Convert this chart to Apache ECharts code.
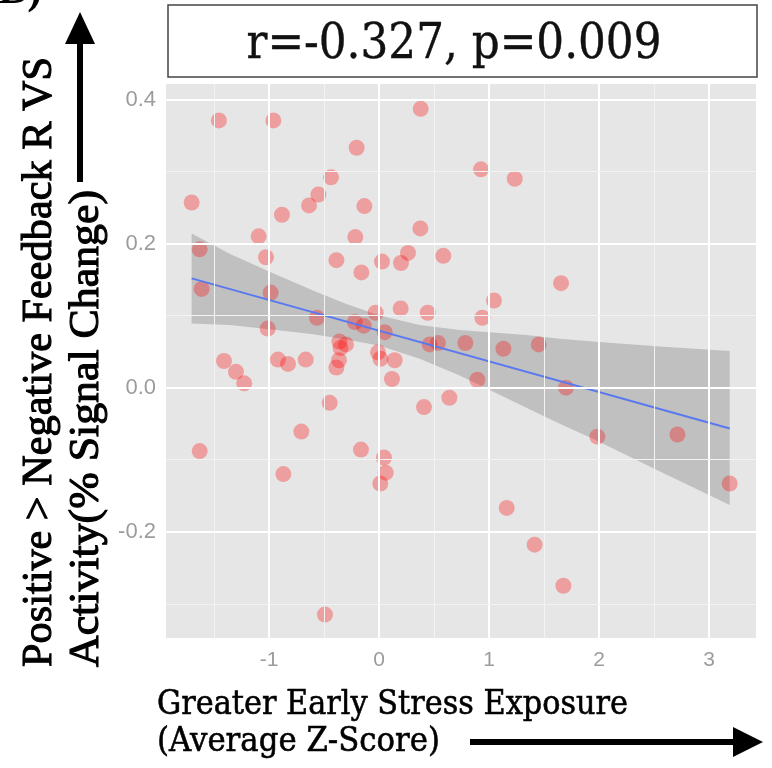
<!DOCTYPE html>
<html>
<head>
<meta charset="utf-8">
<script src="https://cdn.jsdelivr.net/npm/echarts@6/dist/echarts.min.js"></script>
<style>html,body{margin:0;padding:0;background:#fff}#c{width:772px;height:768px}</style>
</head>
<body>
<div id="c"></div>
<script>
// ---- data ----
const pointsX = [-1.455,-0.960,0.379,-0.203,-0.436,-0.551,-0.636,-0.133,-1.703,-0.882,0.376,-1.094,-0.215,-1.630,-1.027,-0.387,0.027,0.264,0.200,0.585,-0.160,-1.612,-0.985,-0.564,-0.030,0.197,0.443,-0.220,-0.139,-1.012,0.052,-0.36,-0.30,-0.35,0.461,0.536,0.785,-1.409,-1.300,-1.225,-0.918,-0.827,-0.666,-0.364,-0.387,-0.009,0.013,0.143,0.118,-0.448,0.409,0.640,-1.630,-0.706,-0.164,0.045,0.061,0.012,-0.869,-0.491,0.927,1.234,1.655,1.045,0.940,1.131,1.452,0.894,1.700,1.985,2.713,3.188,1.161,1.415,1.676];
const pointsY = [0.371,0.371,0.387,0.333,0.292,0.268,0.253,0.252,0.257,0.240,0.221,0.210,0.209,0.192,0.181,0.177,0.175,0.187,0.173,0.183,0.160,0.137,0.132,0.097,0.104,0.110,0.104,0.091,0.086,0.082,0.077,0.064,0.060,0.055,0.060,0.062,0.062,0.037,0.022,0.006,0.039,0.033,0.039,0.038,0.028,0.049,0.040,0.038,0.012,-0.021,-0.027,-0.014,-0.088,-0.061,-0.086,-0.097,-0.118,-0.133,-0.120,-0.315,0.303,0.290,0.145,0.121,0.097,0.054,0.060,0.011,0.000,-0.068,-0.065,-0.133,-0.167,-0.218,-0.275];
const fitX = [-1.703, 3.188];
const fitY = [0.1517, -0.0567];
const bandX = [-1.703,-1.357,-0.994,-0.6,-0.297,0.006,0.37,0.733,1.34,1.643,1.945,2.55,3.188];
const bandUpper = [0.214,0.186,0.161,0.135,0.116,0.100,0.087,0.080,0.073,0.068,0.064,0.057,0.051];
const bandLower = [0.089,0.087,0.081,0.074,0.067,0.058,0.040,0.017,-0.028,-0.050,-0.071,-0.116,-0.163];
const xTicks = [-1, 0, 1, 2, 3];
const xMinorTicks = [-1.5, -0.5, 0.5, 1.5, 2.5];
const yTicks = [-0.2, 0.0, 0.2, 0.4];
const yMinorTicks = [-0.3, -0.1, 0.1, 0.3];
const statText = 'r=-0.327, p=0.009';
const yTitle1 = 'Positive > Negative Feedback R VS';
const yTitle2 = 'Activity(% Signal Change)';
const xTitle1 = 'Greater Early Stress Exposure';
const xTitle2 = '(Average Z-Score)';

const measureCtx = document.createElement('canvas').getContext('2d');
function fitScale(text, font, target) {
  measureCtx.font = font;
  return target / measureCtx.measureText(text).width;
}

const chart = echarts.init(document.getElementById('c'), null, {renderer: 'canvas'});

const gridLines = [];
xTicks.forEach(v => gridLines.push({xAxis: v, lineStyle: {color: '#ffffff', width: 2, type: 'solid'}}));
xMinorTicks.forEach(v => gridLines.push({xAxis: v, lineStyle: {color: '#f3f3f3', width: 1, type: 'solid'}}));
yTicks.forEach(v => gridLines.push({yAxis: v, lineStyle: {color: '#ffffff', width: 2, type: 'solid'}}));
yMinorTicks.forEach(v => gridLines.push({yAxis: v, lineStyle: {color: '#f3f3f3', width: 1, type: 'solid'}}));

const labelColor = '#9c9c9c';
const yFont = '43px "Liberation Serif"';
const xFont = '34px "DejaVu Serif"';
const statFont = '48px "DejaVu Serif"';

chart.setOption({
  animation: false,
  backgroundColor: '#ffffff',
  grid: {left: 166, right: 16, top: 84, bottom: 130, show: true, backgroundColor: '#e6e6e6', borderWidth: 0},
  xAxis: {
    type: 'value', min: -1.936, max: 3.427,
    axisLine: {show: false},
    axisTick: {show: true, length: 4, lineStyle: {color: '#8a8a8a'}, customValues: xTicks},
    axisLabel: {customValues: xTicks, color: labelColor, fontSize: 21, fontFamily: 'Liberation Sans', margin: 12, formatter: v => String(v)},
    splitLine: {show: false}
  },
  yAxis: {
    type: 'value', min: -0.3475, max: 0.4215,
    axisLine: {show: false},
    axisTick: {show: true, length: 4, lineStyle: {color: '#8a8a8a'}, customValues: yTicks},
    axisLabel: {customValues: yTicks, color: labelColor, fontSize: 22, fontFamily: 'Liberation Sans', margin: 10, formatter: v => v.toFixed(1)},
    splitLine: {show: false}
  },
  series: [
    {
      type: 'line', data: [], z: 1, silent: true,
      markLine: {silent: true, symbol: 'none', label: {show: false}, animation: false, data: gridLines}
    },
    {
      type: 'custom', z: 2, silent: true,
      data: [[0, 0]],
      renderItem: function (params, api) {
        const pts = [];
        for (let i = 0; i < bandX.length; i++) pts.push(api.coord([bandX[i], bandUpper[i]]));
        for (let i = bandX.length - 1; i >= 0; i--) pts.push(api.coord([bandX[i], bandLower[i]]));
        return {type: 'polygon', shape: {points: pts}, style: {fill: 'rgba(140,140,140,0.42)', stroke: 'none'}};
      }
    },
    {
      type: 'scatter', z: 3,
      data: pointsX.map((x, i) => [x, pointsY[i]]),
      symbolSize: 16,
      itemStyle: {color: 'rgba(255,0,0,0.38)'}
    },
    {
      type: 'line', z: 4, symbol: 'none',
      data: fitX.map((x, i) => [x, fitY[i]]),
      lineStyle: {color: '#5a78f0', width: 2}
    }
  ],
  graphic: [
    {type: 'text', x: -2, y: -30, style: {text: 'B)', font: 'bold 44px "Liberation Serif"', fill: '#000'}},
    {type: 'rect', shape: {x: 168, y: 5, width: 589, height: 72}, style: {fill: '#fff', stroke: '#444', lineWidth: 1.5}},
    {type: 'text', x: 454, y: 46, scaleX: fitScale(statText, statFont, 415), style: {text: statText, font: statFont, fill: '#111', stroke: '#111', lineWidth: 0.4, align: 'center', verticalAlign: 'middle'}},
    {type: 'text', x: 40, y: 667, rotation: Math.PI / 2, scaleX: fitScale(yTitle1, yFont, 610), style: {text: yTitle1, font: yFont, fill: '#000', stroke: '#000', lineWidth: 1.1, align: 'left', verticalAlign: 'middle'}},
    {type: 'text', x: 87, y: 667, rotation: Math.PI / 2, scaleX: fitScale(yTitle2, yFont, 477), style: {text: yTitle2, font: yFont, fill: '#000', stroke: '#000', lineWidth: 1.1, align: 'left', verticalAlign: 'middle'}},
    {type: 'text', x: 157, y: 705, scaleX: fitScale(xTitle1, xFont, 471), style: {text: xTitle1, font: xFont, fill: '#000', stroke: '#000', lineWidth: 0.6, align: 'left', verticalAlign: 'middle'}},
    {type: 'text', x: 157, y: 742, scaleX: fitScale(xTitle2, xFont, 283), style: {text: xTitle2, font: xFont, fill: '#000', stroke: '#000', lineWidth: 0.6, align: 'left', verticalAlign: 'middle'}},
    {type: 'rect', shape: {x: 77, y: 40, width: 6, height: 142}, style: {fill: '#000'}},
    {type: 'polygon', shape: {points: [[65, 44], [95, 44], [80, 12]]}, style: {fill: '#000'}},
    {type: 'rect', shape: {x: 470, y: 739, width: 266, height: 6}, style: {fill: '#000'}},
    {type: 'polygon', shape: {points: [[733, 727], [733, 757], [763, 742]]}, style: {fill: '#000'}}
  ]
});
</script>
</body>
</html>
